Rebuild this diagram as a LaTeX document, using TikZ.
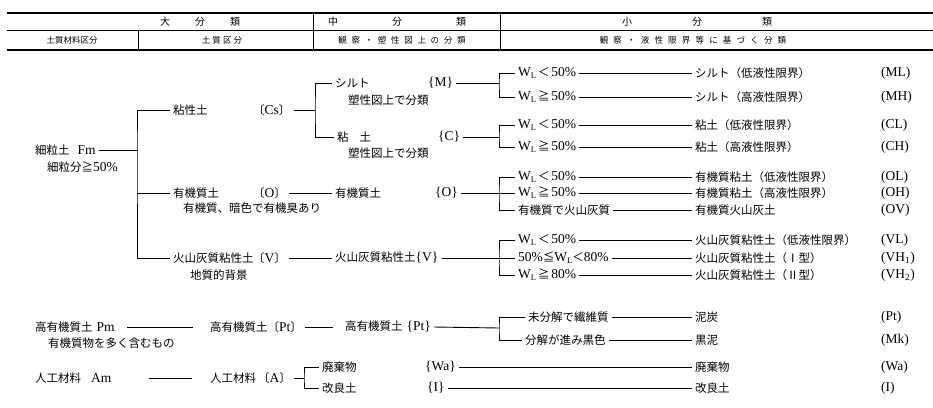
\documentclass[tikz,border=0pt]{standalone}
\usepackage{fontspec}
\setmainfont{Liberation Serif}
\newfontfamily\jpf{Noto Sans CJK JP}
\usetikzlibrary{calc}
\newcommand\lx[1]{{\rmfamily\fontsize{13.5}{15}\selectfont #1}}
\newcommand\wl{\lx{W\raisebox{-.3ex}{\fontsize{8.5}{9}\selectfont L}}}

\tikzset{
  txt/.style={anchor=west,inner xsep=3pt,inner ysep=1pt,font=\jpf\fontsize{11.5}{13}\selectfont},
  hd/.style={inner sep=1pt,font=\jpf\fontsize{10}{12}\selectfont},
  sub/.style={inner sep=1pt,font=\jpf\fontsize{8.5}{10}\selectfont\addfontfeature{LetterSpace=#1}},
  br/.style={line width=0.9pt},
}

\begin{document}
\begin{tikzpicture}[x=1pt,y=-1pt]
\useasboundingbox (0,0) rectangle (933,407);
% header table
\draw[line width=1.3pt] (7,13) -- (933,13);
\draw[line width=0.6pt] (7,30) -- (933,30);
\draw[line width=1.1pt] (7,50) -- (933,50);
\draw[line width=0.8pt] (313,13) -- (313,50) (500,13) -- (500,50) (138,30) -- (138,50);
\node[hd] (h1) at (200,22) {大\hspace{25pt}分\hspace{25pt}類};
\node[hd] (h2) at (397,22) {中\hspace{54pt}分\hspace{54pt}類};
\node[hd] (h3) at (697,22) {小\hspace{60pt}分\hspace{60pt}類};
\node[sub=0] (s1) at (72,40) {土質材料区分};
\node[sub=24] (s2) at (222,40) {土質区分};
\node[sub=55] (s3) at (402,40) {観察・塑性図上の分類};
\node[sub=61] (s4) at (693,40) {観察・液性限界等に基づく分類};

% soil material
\node[txt] (fm) at (32,150) {細粒土\hspace{8pt}\lx{Fm}};
\node[txt] (fmn) at (44,167) {細粒分≧\lx{50\%}};
\node[txt] (pm) at (32,327) {高有機質土\hspace{4pt}\lx{Pm}};
\node[txt] (pmn) at (45,343) {有機質物を多く含むもの};
\node[txt] (am) at (32,378) {人工材料\hspace{10pt}\lx{Am}};

% soil groups
\node[txt] (cs) at (170,110) {粘性土};
\node[txt] (csk) at (250,110) {〔\lx{Cs}〕};
\node[txt] (om) at (170,193) {有機質土};
\node[txt] (omk) at (250,193) {〔\lx{O}〕};
\node[txt] (omn) at (180,208) {有機質、暗色で有機臭あり};
\node[txt] (vh) at (170,258) {火山灰質粘性土};
\node[txt] (vhk) at (250,258) {〔\lx{V}〕};
\node[txt] (vhn) at (187,275) {地質的背景};
\node[txt] (hp) at (207,327) {高有機質土〔\lx{Pt}〕};
\node[txt] (ar) at (207,378) {人工材料\hspace{2pt}〔\lx{A}〕};

% medium classification
\node[txt] (mc) at (332,83) {シルト};
\node[txt] (mck) at (425,83) {\lx{\{M\}}};
\node[txt] (mcn) at (345,100) {塑性図上で分類};
\node[txt] (cc) at (334,137) {粘\hspace{11pt}土};
\node[txt] (cck) at (435,137) {\lx{\{C\}}};
\node[txt] (ccn) at (345,153) {塑性図上で分類};
\node[txt] (oc) at (332,193) {有機質土};
\node[txt] (ock) at (432,193) {\lx{\{O\}}};
\node[txt] (vc) at (332,258) {火山灰質粘性土\lx{\{V\}}};
\node[txt] (pc) at (342,327) {高有機質土\hspace{4pt}\lx{\{Pt\}}};
\node[txt] (wc) at (319,367) {廃棄物};
\node[txt] (wck) at (422,367) {\lx{\{Wa\}}};
\node[txt] (ic) at (319,388) {改良土};
\node[txt] (ick) at (424,388) {\lx{\{I\}}};

% conditions
\foreach \i/\y/\t in {1/73/{\wl\,＜\,\lx{50\%}}, 2/97/{\wl\,≧\,\lx{50\%}},
    3/125/{\wl\,＜\,\lx{50\%}}, 4/147/{\wl\,≧\,\lx{50\%}},
    5/177/{\wl\,＜\,\lx{50\%}}, 6/193/{\wl\,≧\,\lx{50\%}}, 7/210/{有機質で火山灰質},
    8/240/{\wl\,＜\,\lx{50\%}}, 9/258/{\lx{50\%}≦\wl＜\lx{80\%}}, 10/275/{\wl\,≧\,\lx{80\%}}}
  \node[txt] (d\i) at (515,\y) {\t};
\node[txt] (d11) at (525,317) {未分解で繊維質};
\node[txt] (d12) at (522,340) {分解が進み黒色};

% small classification
\foreach \i/\y/\t/\k in {1/73/シルト（低液性限界）/ML, 2/97/シルト（高液性限界）/MH,
    3/125/粘土（低液性限界）/CL, 4/147/粘土（高液性限界）/CH,
    5/177/有機質粘土（低液性限界）/OL, 6/193/有機質粘土（高液性限界）/OH,
    7/210/有機質火山灰土/OV, 8/240/火山灰質粘性土（低液性限界）/VL,
    9/258/火山灰質粘性土（Ⅰ型）/{VH\textsubscript{1}}, 10/275/火山灰質粘性土（Ⅱ型）/{VH\textsubscript{2}},
    11/317/泥炭/Pt, 12/340/黒泥/Mk, 13/367/廃棄物/Wa, 14/388/改良土/I}{
  \node[txt] (e\i) at (692,\y) {\t};
  \node[txt] (f\i) at (878,\y) {\lx{(\k)}};
}

% brackets
\coordinate (j1) at (137,150);
\coordinate (j2) at (315,110);
\coordinate (j3) at (499,83);
\coordinate (j4) at (499,137);
\coordinate (j5) at (499,193);
\coordinate (j6) at (499,258);
\coordinate (j7) at (499,328);
\coordinate (j8) at (304,378);
\draw[br] (fm.east) -- (j1);
\draw[br] (cs.west) -| (j1) |- (vh.west);
\draw[br] (om.west) -- (om.west -| j1);
\draw[br] (csk.east) -- (j2);
\draw[br] (mc.west) -| (j2) |- (cc.west);
\draw[br] (mck.east) -- (j3);
\draw[br] (d1.west) -| (j3) |- (d2.west);
\draw[br] (cck.east) -- (j4);
\draw[br] (d3.west) -| (j4) |- (d4.west);
\draw[br] (ock.east) -- (j5);
\draw[br] (d5.west) -| (j5) |- (d7.west);
\draw[br] (d6.west) -- (j5);
\draw[br] (vc.east) -- (j6);
\draw[br] (d8.west) -| (j6) |- (d10.west);
\draw[br] (d9.west) -- (j6);
\draw[br] (pc.east) -- (j7);
\draw[br] (d11.west) -| (j7) |- (d12.west);
\draw[br] (ar.east) -- (j8);
\draw[br] (wc.west) -| (j8) |- (ic.west);

% straight links
\draw[br] (omk.east) -- (oc.west);
\draw[br] (vhk.east) -- (vc.west);
\draw[br,shorten <=9pt,shorten >=14pt] (pm.east) -- (hp.west);
\draw[br,shorten <=34pt,shorten >=15pt] (am.east) -- (ar.west);
\draw[br,shorten >=9pt] (hp.east) -- (pc.west);
\draw[br] (wck.east) -- (e13.west);
\draw[br] (ick.east) -- (e14.west);
\foreach \i in {1,...,12}
  \draw[br] (d\i.east) -- (e\i.west);
\end{tikzpicture}
\end{document}
